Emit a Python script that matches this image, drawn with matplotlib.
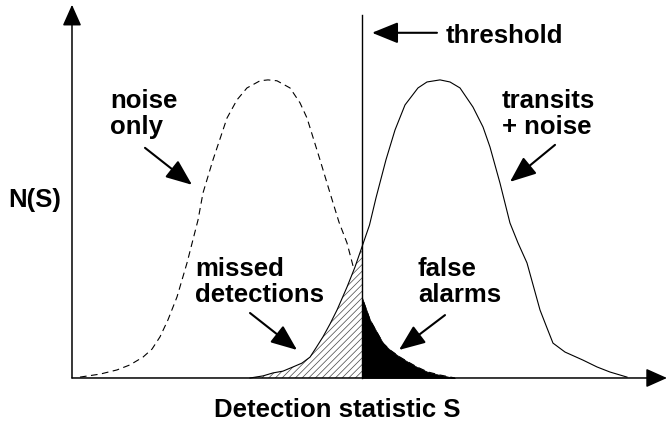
import matplotlib
matplotlib.use("Agg")
import matplotlib.pyplot as plt
import numpy as np

plt.rcParams['font.family'] = ['Liberation Sans', 'DejaVu Sans']
plt.rcParams['hatch.linewidth'] = 0.5

# ---- data (S in arbitrary units, N normalised to peak) ----
noise_S = [0.134, 0.471, 0.756, 0.975, 1.193, 1.345, 1.479, 1.613, 1.765, 1.933,
           2.118, 2.202, 2.370, 2.605, 2.773, 2.941, 3.160, 3.294, 3.445, 3.664,
           3.832, 3.950, 4.168, 4.336, 4.487, 4.622, 4.723, 4.874, 5.008, 5.227,
           5.345, 5.513, 5.647, 5.798, 5.983, 6.185, 6.437]
noise_N = [0.003, 0.013, 0.027, 0.044, 0.070, 0.097, 0.138, 0.195, 0.272, 0.386,
           0.530, 0.621, 0.732, 0.872, 0.933, 0.973, 0.997, 1.000, 0.997, 0.973,
           0.923, 0.872, 0.732, 0.621, 0.523, 0.453, 0.376, 0.270, 0.195, 0.117,
           0.094, 0.070, 0.054, 0.037, 0.020, 0.010, 0.000]

signal_S = [2.992, 3.210, 3.378, 3.546, 3.714, 3.866, 4.000, 4.101, 4.218, 4.336,
            4.454, 4.622, 4.756, 4.874, 5.000, 5.109, 5.277, 5.429, 5.597, 5.815,
            5.966, 6.185, 6.353, 6.521, 6.739, 6.908, 7.025, 7.193, 7.361, 7.496,
            7.647, 7.866, 7.983, 8.084, 8.286, 8.588, 8.824, 9.042, 9.328]
signal_N = [0.000, 0.007, 0.017, 0.023, 0.037, 0.050, 0.070, 0.101, 0.138, 0.181,
            0.228, 0.305, 0.372, 0.440, 0.513, 0.604, 0.732, 0.832, 0.916, 0.973,
            0.993, 1.000, 0.993, 0.973, 0.909, 0.842, 0.775, 0.654, 0.520, 0.453,
            0.386, 0.228, 0.168, 0.117, 0.087, 0.060, 0.037, 0.020, 0.003]

threshold_S = 4.874
threshold_top = 1.218

axis_S_max = 10.0
axis_N_max = 1.252

labels = ["noise\nonly", "transits\n+ noise", "missed\ndetections", "false\nalarms", "threshold"]
# (left x, baseline of last line)
label_pos = [(0.639, 0.819), (7.22, 0.819), (2.067, 0.255), (5.815, 0.255), (6.286, 1.124)]
arrow_tail = [(1.227, 0.772), (8.118, 0.782), (2.992, 0.218), (6.269, 0.211), (6.134, 1.158)]
arrow_tip = [(2.017, 0.648), (7.361, 0.658), (3.782, 0.094), (5.496, 0.094), (5.042, 1.158)]

xlabel_text = "Detection statistic S"
ylabel_text = "N(S)"

# ---- figure ----
fig = plt.figure(figsize=(6.68, 4.23), dpi=100)
ax = fig.add_axes([0, 0, 1, 1])
ax.set_xlim(-1.210, 10.017)
ax.set_ylim(-0.151, 1.268)
ax.axis('off')

nS = np.array(noise_S); nN = np.array(noise_N)
sS = np.array(signal_S); sN = np.array(signal_N)

# noise-only curve (dashed)
ax.plot(nS, nN, color='black', lw=0.8, ls=(0, (6, 4)), zorder=2,
        solid_joinstyle='round', dash_joinstyle='round')

# missed detections: hatched area under signal curve left of threshold
m = sS <= threshold_S + 1e-9
ax.fill_between(sS[m], 0, sN[m], facecolor='white', edgecolor='#444444',
                hatch='/////', lw=0, zorder=3)

# false alarms: black area under noise curve right of threshold
f = nS >= threshold_S - 1e-9
ax.fill_between(nS[f], 0, nN[f], facecolor='black', edgecolor='black', lw=0.5, zorder=3)

# transits + noise curve (solid)
ax.plot(sS, sN, color='black', lw=0.8, zorder=4, solid_joinstyle='round')

# threshold line
ax.plot([threshold_S, threshold_S], [0, threshold_top], color='black', lw=1.0, zorder=5)

# axes with arrows
axis_style = dict(arrowstyle='-|>,head_length=1.3,head_width=0.58', mutation_scale=10,
                  color='black', lw=1.1, shrinkA=0, shrinkB=0)
ax.annotate('', xy=(0, axis_N_max), xytext=(0, 0), arrowprops=axis_style, zorder=6)
ax.annotate('', xy=(axis_S_max, 0), xytext=(0, 0), arrowprops=axis_style, zorder=6)

# labels with arrows
lab_style = dict(arrowstyle='-|>,head_length=1.6,head_width=0.65', mutation_scale=10,
                 color='black', lw=1.5, shrinkA=0, shrinkB=0)
for txt, pos, tail, tip in zip(labels, label_pos, arrow_tail, arrow_tip):
    ax.text(pos[0], pos[1], txt, fontsize=18.5, fontweight='bold', ha='left',
            va='baseline', linespacing=1.08, zorder=7)
    ax.annotate('', xy=tip, xytext=tail, arrowprops=lab_style, zorder=7)

ax.text(4.462, -0.131, xlabel_text, fontsize=18.5, fontweight='bold', ha='center', va='baseline')
ax.text(-1.076, 0.574, ylabel_text, fontsize=18.5, fontweight='bold', ha='left', va='baseline')

fig.savefig('out.png', dpi=100)
